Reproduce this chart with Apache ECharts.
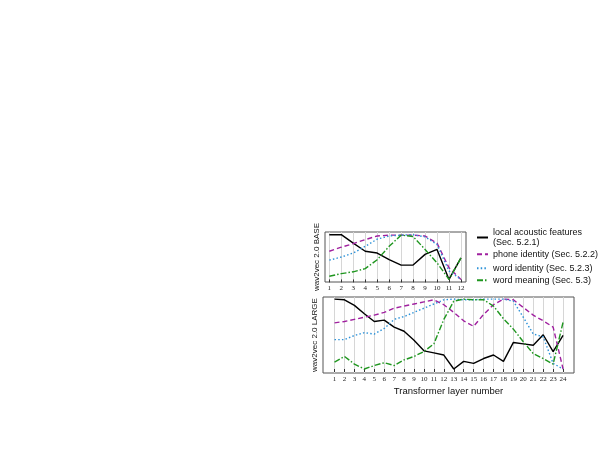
<!DOCTYPE html>
<html>
<head>
<meta charset="utf-8">
<script src="https://cdn.jsdelivr.net/npm/echarts@6/dist/echarts.min.js"></script>
<style>
  html, body { margin: 0; padding: 0; background: #fff; }
  #chart { width: 608px; height: 470px; }
</style>
</head>
<body>
<div id="chart"></div>
<script>
// layers
var baseLayers = [1, 2, 3, 4, 5, 6, 7, 8, 9, 10, 11, 12];
var largeLayers = [1, 2, 3, 4, 5, 6, 7, 8, 9, 10, 11, 12, 13, 14, 15, 16, 17, 18, 19, 20, 21, 22, 23, 24];

// wav2vec 2.0 BASE (normalised scores)
var baseAcoustic = [1.0, 1.0, 0.81, 0.63, 0.59, 0.44, 0.32, 0.32, 0.56, 0.67, 0.0, 0.48];
var basePhone    = [0.63, 0.72, 0.80, 0.89, 0.97, 0.99, 0.99, 0.99, 0.97, 0.81, 0.26, 0.0];
var baseWord     = [0.43, 0.50, 0.59, 0.74, 0.90, 0.97, 0.99, 1.0, 0.95, 0.78, 0.19, 0.0];
var baseMeaning  = [0.07, 0.13, 0.17, 0.24, 0.44, 0.74, 0.99, 0.96, 0.67, 0.37, 0.0, 0.48];

// wav2vec 2.0 LARGE
var largeAcoustic = [1.0, 0.99, 0.91, 0.79, 0.68, 0.70, 0.60, 0.54, 0.41, 0.26, 0.23, 0.20,
                     0.0, 0.11, 0.08, 0.15, 0.20, 0.11, 0.38, 0.36, 0.34, 0.49, 0.25, 0.48];
var largePhone    = [0.66, 0.68, 0.71, 0.74, 0.77, 0.81, 0.87, 0.90, 0.93, 0.96, 0.99, 0.92,
                     0.81, 0.69, 0.61, 0.78, 0.92, 1.0, 0.99, 0.88, 0.77, 0.69, 0.60, 0.0];
var largeWord     = [0.42, 0.42, 0.48, 0.52, 0.50, 0.58, 0.71, 0.75, 0.81, 0.87, 0.93, 0.99,
                     1.0, 0.99, 0.99, 1.0, 1.0, 1.0, 0.97, 0.74, 0.50, 0.46, 0.08, 0.0];
var largeMeaning  = [0.10, 0.18, 0.07, 0.0, 0.05, 0.09, 0.05, 0.13, 0.18, 0.25, 0.36, 0.71,
                     0.97, 1.0, 0.99, 0.99, 0.90, 0.72, 0.57, 0.39, 0.22, 0.15, 0.07, 0.67];

var names = ['local acoustic features\n(Sec. 5.2.1)', 'phone identity (Sec. 5.2.2)',
             'word identity (Sec. 5.2.3)', 'word meaning (Sec. 5.3)'];
var colors = ['#000000', '#a0209f', '#2d92d8', '#1f961f'];
var dashes = ['solid', [5, 3], [1.5, 2.2], [6, 2, 1.5, 2]];

function pairs(xs, ys) {
    return xs.map(function (x, i) { return [x, ys[i]]; });
}

var baseSets = [baseAcoustic, basePhone, baseWord, baseMeaning];
var largeSets = [largeAcoustic, largePhone, largeWord, largeMeaning];

var series = [];
baseSets.forEach(function (ys, i) {
    series.push({
        name: names[i], type: 'line', xAxisIndex: 0, yAxisIndex: 0,
        data: pairs(baseLayers, ys), symbol: 'none', silent: true,
        lineStyle: { color: colors[i], width: 1.4, type: dashes[i] },
        itemStyle: { color: colors[i] }
    });
});
largeSets.forEach(function (ys, i) {
    series.push({
        name: names[i], type: 'line', xAxisIndex: 1, yAxisIndex: 1,
        data: pairs(largeLayers, ys), symbol: 'none', silent: true,
        lineStyle: { color: colors[i], width: 1.4, type: dashes[i] },
        itemStyle: { color: colors[i] }
    });
});

function xAxisFor(idx, layers, min, max, extra) {
    var ax = {
        type: 'value', gridIndex: idx, min: min, max: max,
        axisLine: { show: false },
        axisTick: { show: true, customValues: layers, length: 3, lineStyle: { color: '#333' } },
        axisLabel: { customValues: layers, fontFamily: 'Liberation Serif', fontSize: 7, color: '#222', margin: 3 },
        splitLine: { show: true, lineStyle: { color: '#d6d6d6', width: 1 } }
    };
    return Object.assign(ax, extra || {});
}

function yAxisFor(idx, min, max, name) {
    return {
        type: 'value', gridIndex: idx, min: min, max: max,
        name: name, nameLocation: 'middle', nameGap: 4,
        nameTextStyle: { fontFamily: 'Liberation Sans', fontSize: 8, color: '#111' },
        axisLine: { show: false }, axisTick: { show: false },
        axisLabel: { show: false }, splitLine: { show: false }
    };
}

// one legend per entry, so the spacing can follow the reference
var legendTops = [228, 249.5, 263.5, 275.5];
var legends = names.map(function (n, i) {
    return {
        data: [n], orient: 'vertical', left: 476, top: legendTops[i], padding: 0,
        itemWidth: 11, itemHeight: 8, itemGap: 0,
        itemStyle: { opacity: 0 },
        textStyle: { fontFamily: 'Liberation Sans', fontSize: 9, color: '#111', lineHeight: 9.5 },
        selectedMode: false
    };
});

var chart = echarts.init(document.getElementById('chart'));
chart.setOption({
    animation: false,
    backgroundColor: '#fff',
    grid: [
        { left: 325, top: 232, width: 141, height: 50, show: true, borderColor: '#555', borderWidth: 1 },
        { left: 323, top: 297, width: 251, height: 76, show: true, borderColor: '#555', borderWidth: 1 }
    ],
    xAxis: [
        xAxisFor(0, baseLayers, 0.64, 12.42),
        xAxisFor(1, largeLayers, -0.16, 25.1, {
            name: 'Transformer layer number', nameLocation: 'middle', nameGap: 13,
            nameTextStyle: { fontFamily: 'Liberation Sans', fontSize: 9.5, color: '#111' }
        })
    ],
    yAxis: [
        yAxisFor(0, -0.058, 1.06, 'wav2vec 2.0 BASE'),
        yAxisFor(1, -0.057, 1.03, 'wav2vec 2.0 LARGE')
    ],
    legend: legends,
    series: series
});
</script>
</body>
</html>
